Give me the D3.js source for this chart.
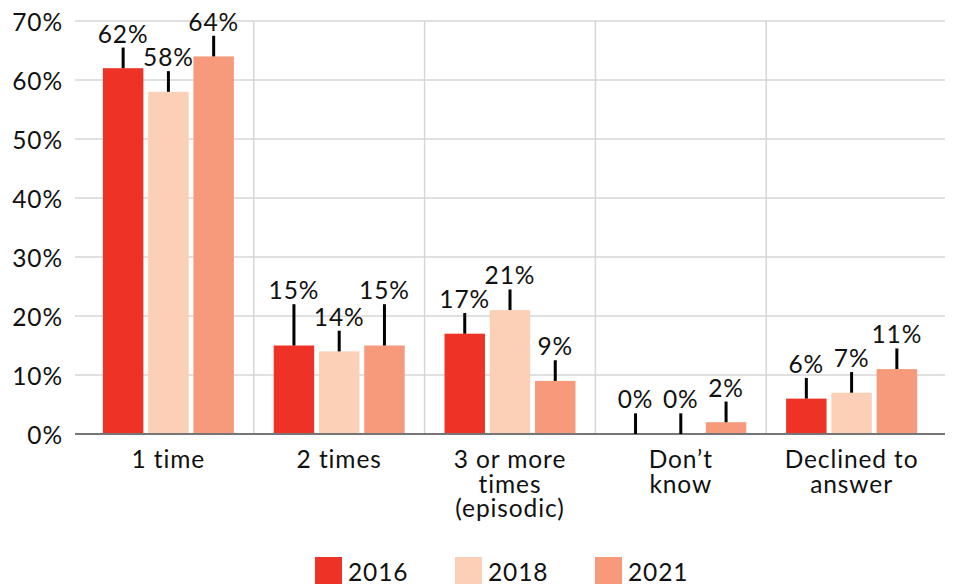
<!DOCTYPE html>
<html>
<head>
<meta charset="utf-8">
<script src="https://cdn.jsdelivr.net/npm/d3@7"></script>
<style>
  html, body { margin: 0; padding: 0; background: #ffffff; }
  svg { display: block; }
  text { font-family: Lato, "Open Sans", sans-serif; fill: #111; letter-spacing: 0.9px; }
</style>
</head>
<body>
<svg id="chart" width="953" height="585"></svg>
<script>
// ---- data ----
const categories = [["1 time"], ["2 times"], ["3 or more", "times", "(episodic)"], ["Don\u2019t", "know"], ["Declined to", "answer"]];
const years = ["2016", "2018", "2021"];
const values2016 = [62, 15, 17, 0, 6];
const values2018 = [58, 14, 21, 0, 7];
const values2021 = [64, 15, 9, 2, 11];
const errors2016 = [3.5, 7, 3.5, 3.5, 3.5];
const errors2018 = [3.5, 3.5, 3.5, 3.5, 3.5];
const errors2021 = [3.5, 7, 3.5, 3.5, 3.5];
const yTicks = [0, 10, 20, 30, 40, 50, 60, 70];
const colors = ["#EE3226", "#FBD0B6", "#F79A7C"];

const seriesValues = [values2016, values2018, values2021];
const seriesErrors = [errors2016, errors2018, errors2021];

const svg = d3.select("#chart");
const plotLeft = 83, plotRight = 937, plotTop = 21, plotBottom = 434;
const fs = 24.5;

const x0 = d3.scaleBand().domain(d3.range(categories.length)).range([plotLeft, plotRight]).padding(0);
const x1 = d3.scaleBand().domain(years).range([0, x0.bandwidth()]).paddingInner(0.106).paddingOuter(0.44);
const y = d3.scaleLinear().domain([0, 70]).range([plotBottom, plotTop]);

// horizontal gridlines
svg.append("g").selectAll("line").data(yTicks.filter(d => d > 0)).join("line")
  .attr("x1", plotLeft - 8).attr("x2", plotRight + 8)
  .attr("y1", d => y(d)).attr("y2", d => y(d))
  .attr("stroke", "#d6d6d6").attr("stroke-width", 1.5);

// vertical gridlines between categories
svg.append("g").selectAll("line").data(d3.range(1, categories.length)).join("line")
  .attr("x1", d => x0(d)).attr("x2", d => x0(d))
  .attr("y1", plotTop).attr("y2", plotBottom)
  .attr("stroke", "#d6d6d6").attr("stroke-width", 1.5);

// y axis labels
svg.append("g").selectAll("text").data(yTicks).join("text")
  .attr("x", 63).attr("y", d => y(d))
  .attr("text-anchor", "end").attr("dominant-baseline", "central")
  .attr("font-size", fs)
  .text(d => d + "%");

// bars
const flat = [];
years.forEach((yr, si) => {
  categories.forEach((c, ci) => {
    flat.push({ yr, si, ci, v: seriesValues[si][ci], e: seriesErrors[si][ci] });
  });
});

svg.append("g").selectAll("rect").data(flat.filter(d => d.v > 0)).join("rect")
  .attr("x", d => x0(d.ci) + x1(d.yr))
  .attr("width", x1.bandwidth())
  .attr("y", d => y(d.v))
  .attr("height", d => y(0) - y(d.v))
  .attr("fill", d => colors[d.si]);

// axis baseline
svg.append("line")
  .attr("x1", plotLeft - 8).attr("x2", plotRight + 8)
  .attr("y1", plotBottom).attr("y2", plotBottom)
  .attr("stroke", "#767676").attr("stroke-width", 2.2);

// error bars (upper)
svg.append("g").selectAll("line").data(flat).join("line")
  .attr("x1", d => x0(d.ci) + x1(d.yr) + x1.bandwidth() / 2)
  .attr("x2", d => x0(d.ci) + x1(d.yr) + x1.bandwidth() / 2)
  .attr("y1", d => y(d.v))
  .attr("y2", d => y(d.v + d.e))
  .attr("stroke", "#000").attr("stroke-width", 3);

// value labels
svg.append("g").selectAll("text").data(flat).join("text")
  .attr("x", d => x0(d.ci) + x1(d.yr) + x1.bandwidth() / 2)
  .attr("y", d => y(d.v + d.e) - 5)
  .attr("text-anchor", "middle")
  .attr("font-size", fs)
  .text(d => d.v + "%");

// category labels (one text per line)
const catLines = [];
categories.forEach((lines, i) => lines.forEach((t, j) => catLines.push({ i, j, t })));
svg.append("g").selectAll("text").data(catLines).join("text")
  .attr("text-anchor", "middle")
  .attr("font-size", fs)
  .attr("x", d => x0(d.i) + x0.bandwidth() / 2)
  .attr("y", d => 468 + d.j * 24.5)
  .text(d => d.t);

// legend
const legendX = d3.scaleOrdinal().domain(years).range([315, 455, 595]);
const lg = svg.append("g").selectAll("g").data(years).join("g")
  .attr("transform", d => `translate(${legendX(d)},557)`);
lg.append("rect").attr("width", 27).attr("height", 27).attr("fill", (d, i) => colors[i]);
lg.append("text").attr("x", 33).attr("y", 23.5).attr("font-size", fs).text(d => d);
</script>
</body>
</html>
